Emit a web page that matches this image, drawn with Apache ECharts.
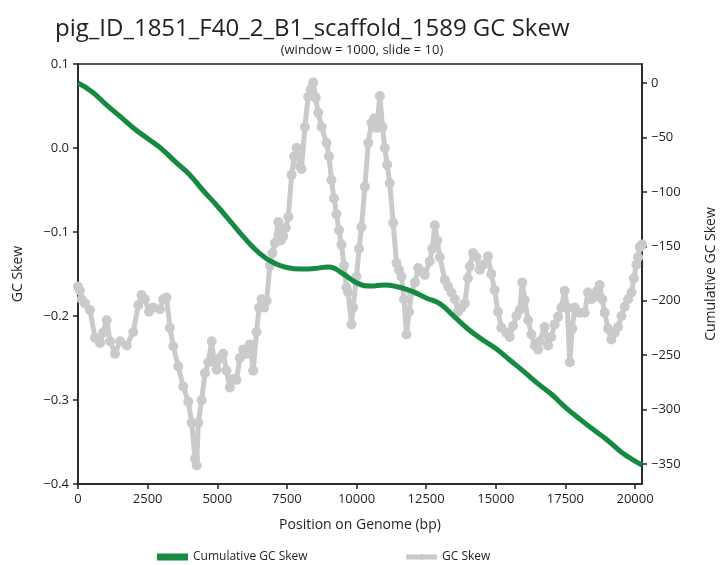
<!DOCTYPE html>
<html>
<head>
<meta charset="utf-8">
<title>GC Skew</title>
<script src="https://cdn.jsdelivr.net/npm/echarts@6/dist/echarts.min.js"></script>
<style>
  html, body { margin: 0; padding: 0; background: #fff; }
  #chart { width: 724px; height: 565px; }
</style>
</head>
<body>
<div id="chart"></div>
<script>
// GC skew (window = 1000, slide = 10)
var gcPos = [0, 70, 133, 250, 430, 610, 790, 900, 1030, 1150, 1330, 1510, 1750, 1985, 2165, 2280, 2400, 2550, 2700, 2940,
  3060, 3180, 3300, 3420, 3600, 3780, 3960, 4080, 4200, 4260, 4320, 4440, 4560, 4680, 4800, 4890, 4980, 5100, 5215, 5330,
  5450, 5570, 5690, 5810, 5930, 6050, 6170, 6290, 6410, 6500, 6590, 6680, 6770, 6890, 6980, 7070, 7190, 7280, 7370, 7460,
  7550, 7670, 7760, 7850, 7970, 8025, 8145, 8265, 8355, 8445, 8535, 8625, 8745, 8925, 9010, 9100, 9190, 9280, 9370, 9460,
  9550, 9640, 9700, 9820, 9880, 10000, 10090, 10180, 10300, 10420, 10540, 10630, 10720, 10840, 10930, 11015, 11100, 11195, 11315, 11435,
  11525, 11615, 11705, 11795, 11885, 11975, 12100, 12215, 12390, 12450, 12630, 12720, 12810, 12900, 12990, 13170, 13290, 13410, 13530, 13645,
  13770, 13890, 14000, 14065, 14185, 14305, 14425, 14545, 14720, 14840, 14960, 15080, 15200, 15380, 15500, 15620, 15740, 15860, 15950, 16040,
  16160, 16280, 16400, 16520, 16575, 16755, 16875, 16995, 17115, 17235, 17355, 17475, 17565, 17655, 17745, 17835, 18010, 18190, 18310, 18430,
  18550, 18640, 18730, 18820, 18910, 19030, 19150, 19270, 19390, 19510, 19630, 19750, 19870, 19960, 20045, 20110, 20170, 20250];
var gcSkew = [-0.165, -0.17, -0.18, -0.185, -0.193, -0.226, -0.232, -0.22, -0.205, -0.23, -0.245, -0.23, -0.235, -0.219, -0.187, -0.175, -0.18, -0.195, -0.19, -0.192,
  -0.18, -0.178, -0.214, -0.236, -0.26, -0.284, -0.302, -0.327, -0.37, -0.378, -0.327, -0.3, -0.268, -0.255, -0.23, -0.255, -0.264, -0.25, -0.245, -0.265,
  -0.285, -0.275, -0.276, -0.25, -0.24, -0.245, -0.234, -0.265, -0.219, -0.19, -0.18, -0.19, -0.182, -0.14, -0.125, -0.113, -0.088, -0.11, -0.105, -0.095,
  -0.082, -0.032, -0.01, 0.0, -0.022, -0.025, 0.025, 0.061, 0.07, 0.078, 0.06, 0.042, 0.025, 0.006, -0.01, -0.038, -0.06, -0.079, -0.098, -0.115,
  -0.14, -0.166, -0.172, -0.21, -0.19, -0.153, -0.12, -0.094, -0.046, 0.006, 0.03, 0.035, 0.024, 0.062, 0.025, 0.0, -0.02, -0.042, -0.089, -0.137,
  -0.145, -0.153, -0.18, -0.222, -0.195, -0.172, -0.16, -0.143, -0.148, -0.151, -0.135, -0.12, -0.092, -0.11, -0.13, -0.157, -0.165, -0.172, -0.18, -0.195,
  -0.19, -0.185, -0.155, -0.141, -0.125, -0.13, -0.145, -0.139, -0.129, -0.15, -0.169, -0.195, -0.214, -0.22, -0.225, -0.212, -0.2, -0.193, -0.16, -0.181,
  -0.205, -0.222, -0.235, -0.24, -0.23, -0.213, -0.235, -0.225, -0.21, -0.201, -0.19, -0.17, -0.19, -0.255, -0.215, -0.19, -0.196, -0.196, -0.172, -0.18,
  -0.177, -0.17, -0.163, -0.18, -0.196, -0.215, -0.228, -0.22, -0.213, -0.2, -0.189, -0.18, -0.172, -0.155, -0.139, -0.13, -0.118, -0.115];

// cumulative GC skew
var cumPos = [0, 500, 1000, 1500, 2000, 2500, 3000, 3500, 4000, 4500, 5000, 5500, 6000, 6500, 7000, 7500, 8000, 8500, 9000, 9500,
  10000, 10500, 11000, 11500, 12000, 12500, 13000, 13500, 14000, 14500, 15000, 15500, 16000, 16500, 17000, 17500, 18000, 18500, 19000, 19500,
  20000, 20250];
var cumSkew = [0, -8, -19.5, -30.5, -41.5, -51, -60.5, -72.5, -84, -99, -113, -128, -143, -156, -165, -169.5, -171, -170.5, -169, -175,
  -183.5, -186.5, -185.5, -187.5, -191.5, -197.5, -203, -214.5, -226, -235.5, -244, -254.5, -265, -276, -286, -298, -308.5, -318.5, -328, -339,
  -347.5, -351];

var xTicks = [0, 2500, 5000, 7500, 10000, 12500, 15000, 17500, 20000];
var cumTicks = [0, -50, -100, -150, -200, -250, -300, -350];

var ink = '#231f20';
var font = 'Open Sans';

function minus(s) { return s.replace('-', '\u2212'); }

var chart = echarts.init(document.getElementById('chart'));
var option = {
  animation: false,
  backgroundColor: '#fff',
  textStyle: { fontFamily: font, color: ink },
  title: [{
    text: 'pig_ID_1851_F40_2_B1_scaffold_1589 GC Skew',
    left: 50, top: 12,
    textStyle: { fontFamily: font, fontSize: 24, fontWeight: 'normal', color: ink }
  }, {
    text: '(window = 1000, slide = 10)',
    left: 'center', top: 39,
    textStyle: { fontFamily: font, fontSize: 13, fontWeight: 'normal', color: ink }
  }],
  legend: {
    data: [
      { name: 'Cumulative GC Skew', icon: 'rect' },
      { name: 'GC Skew', lineStyle: { width: 5 } }
    ],
    left: 152, top: 546,
    itemWidth: 31, itemHeight: 7, itemGap: 96,
    textStyle: { fontFamily: font, fontSize: 12, color: ink }
  },
  grid: {
    left: 78, right: 82, top: 64, bottom: 81,
    containLabel: false, outerBoundsMode: 'none',
    show: true, borderColor: ink, borderWidth: 1.5, backgroundColor: 'transparent'
  },
  xAxis: {
    type: 'value', min: 0, max: 20250,
    name: 'Position on Genome (bp)', nameLocation: 'middle', nameGap: 34,
    nameTextStyle: { fontFamily: font, fontSize: 14, color: ink },
    axisLine: { show: true, onZero: false, lineStyle: { color: ink, width: 1.5 } },
    axisTick: { show: true, length: 5, lineStyle: { color: ink, width: 1.5 }, customValues: xTicks },
    axisLabel: {
      color: ink, fontSize: 13, margin: 9, customValues: xTicks,
      formatter: function (v) { return String(v); }
    },
    splitLine: { show: false }
  },
  yAxis: [{
    type: 'value', min: -0.4, max: 0.1, interval: 0.1,
    name: 'GC Skew', nameLocation: 'middle', nameGap: 53, nameRotate: 90,
    nameTextStyle: { fontFamily: font, fontSize: 14, color: ink },
    axisLine: { show: true, onZero: false, lineStyle: { color: ink, width: 1.5 } },
    axisTick: { show: true, length: 5, lineStyle: { color: ink, width: 1.5 } },
    axisLabel: {
      color: ink, fontSize: 13, margin: 9,
      formatter: function (v) { return minus(v.toFixed(1)).replace('\u22120.0', '0.0'); }
    },
    splitLine: { show: false }
  }, {
    type: 'value', min: -368.5, max: 17.5, position: 'right',
    name: 'Cumulative GC Skew', nameLocation: 'middle', nameGap: 62, nameRotate: 90,
    nameTextStyle: { fontFamily: font, fontSize: 14, color: ink },
    axisLine: { show: true, onZero: false, lineStyle: { color: ink, width: 1.5 } },
    axisTick: { show: true, length: 5, lineStyle: { color: ink, width: 1.5 }, customValues: cumTicks },
    axisLabel: {
      color: ink, fontSize: 13, margin: 9, customValues: cumTicks,
      formatter: function (v) { return minus(String(v)); }
    },
    splitLine: { show: false }
  }],
  series: [{
    name: 'GC Skew',
    type: 'line',
    yAxisIndex: 0,
    data: gcPos.map(function (p, i) { return [p, gcSkew[i]]; }),
    symbol: 'circle', symbolSize: 10, showSymbol: true, showAllSymbol: true,
    itemStyle: { color: '#c9cacc' },
    lineStyle: { color: '#c9cacc', width: 5 },
    z: 2
  }, {
    name: 'Cumulative GC Skew',
    type: 'line',
    yAxisIndex: 1,
    data: cumPos.map(function (p, i) { return [p, cumSkew[i]]; }),
    symbol: 'none', smooth: true,
    itemStyle: { color: '#168a40' },
    lineStyle: { color: '#168a40', width: 5 },
    z: 3
  }]
};
chart.setOption(option);
</script>
</body>
</html>
